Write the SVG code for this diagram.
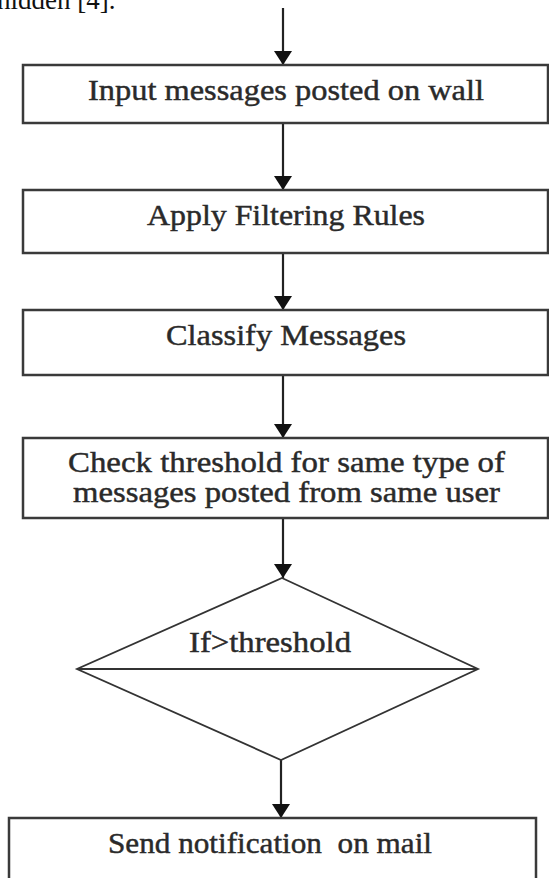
<svg xmlns="http://www.w3.org/2000/svg" width="549" height="878" viewBox="0 0 549 878">
<style>
  .box { fill: #ffffff; stroke: #3a3a3a; stroke-width: 2.5; }
  .dia { fill: #ffffff; stroke: #333333; stroke-width: 1.8; }
  .lbl { font-family: "Liberation Serif", "Times New Roman", serif; font-size: 30px; fill: #2a2a2a; stroke: #2a2a2a; stroke-width: 0.45; text-anchor: middle; }
  .top { font-family: "Liberation Serif", "Times New Roman", serif; font-size: 27px; fill: #111111; }
  .conn { stroke: #222222; stroke-width: 2.2; fill: none; marker-end: url(#arrow); }
</style>
<defs>
  <marker id="arrow" markerWidth="18" markerHeight="18" refX="14" refY="9" orient="auto" markerUnits="userSpaceOnUse">
    <path d="M0,0 L14,9 L0,18 Z" fill="#111111"/>
  </marker>
</defs>
<rect width="549" height="878" fill="#ffffff"/>
<text class="top" x="-3" y="9">hidden [4].</text>

<g id="connectors">
  <line class="conn" x1="283" y1="8" x2="283" y2="65"/>
  <line class="conn" x1="283" y1="123" x2="283" y2="190"/>
  <line class="conn" x1="283" y1="253" x2="283" y2="310"/>
  <line class="conn" x1="283" y1="375" x2="283" y2="438"/>
  <line class="conn" x1="283" y1="518" x2="283" y2="578"/>
  <line class="conn" x1="281" y1="760" x2="281" y2="818"/>
</g>

<g id="n1">
  <rect class="box" x="23" y="65" width="525" height="58"/>
  <text class="lbl" x="286" y="100" textLength="396" lengthAdjust="spacingAndGlyphs">Input messages posted on wall</text>
</g>
<g id="n2">
  <rect class="box" x="23" y="190" width="525" height="63"/>
  <text class="lbl" x="286" y="225" textLength="278" lengthAdjust="spacingAndGlyphs">Apply Filtering Rules</text>
</g>
<g id="n3">
  <rect class="box" x="23" y="310" width="525" height="65"/>
  <text class="lbl" x="286" y="345" textLength="240" lengthAdjust="spacingAndGlyphs">Classify Messages</text>
</g>
<g id="n4">
  <rect class="box" x="23" y="438" width="525" height="80"/>
  <text class="lbl" x="286.5" y="472" textLength="437" lengthAdjust="spacingAndGlyphs">Check threshold for same type of</text>
  <text class="lbl" x="286.5" y="502" textLength="427" lengthAdjust="spacingAndGlyphs">messages posted from same user</text>
</g>
<g id="n5">
  <polygon class="dia" points="282,578 478,669 281,760 77,669"/>
  <line x1="77" y1="669" x2="478" y2="669" stroke="#333333" stroke-width="1.8"/>
  <text class="lbl" x="270" y="652" textLength="162" lengthAdjust="spacingAndGlyphs">If&gt;threshold</text>
</g>
<g id="n6">
  <rect class="box" x="9" y="818" width="527" height="80"/>
  <text class="lbl" x="270" y="853" textLength="324" lengthAdjust="spacingAndGlyphs" xml:space="preserve">Send notification  on mail</text>
</g>
</svg>
